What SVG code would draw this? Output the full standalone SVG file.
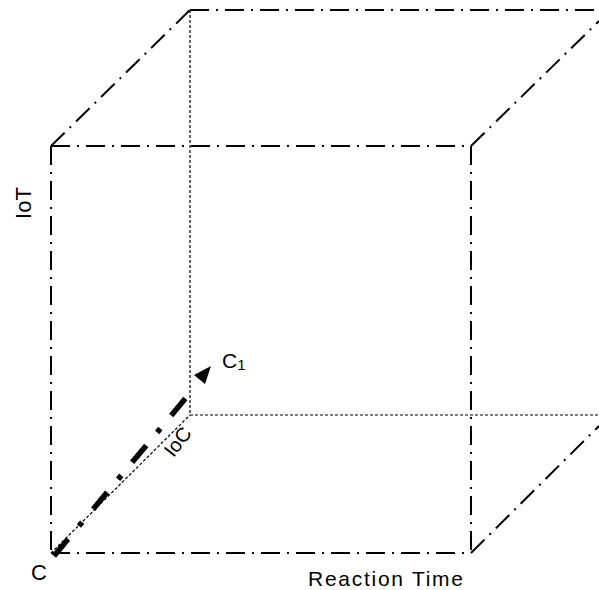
<svg xmlns="http://www.w3.org/2000/svg" width="599" height="590" viewBox="0 0 599 590">
<style>
.dd{fill:none;stroke:#000;stroke-width:2;stroke-dasharray:19 7 2 7}
.dot{fill:none;stroke:#000;stroke-width:1.2;stroke-dasharray:3 2}
.lbl{font-family:"Liberation Sans",Arial,sans-serif;fill:#000}
</style>
<rect width="599" height="590" fill="#fff"/>
<g id="hidden-edges">
<line class="dot" x1="190" y1="10" x2="190" y2="415"/>
<line class="dot" x1="190" y1="415" x2="599" y2="415"/>
<line class="dot" x1="51" y1="553" x2="190" y2="415"/>
</g>
<g id="cube-edges">
<line class="dd" x1="51" y1="146" x2="471" y2="146"/>
<line class="dd" x1="51" y1="146" x2="51" y2="553"/>
<line class="dd" x1="51" y1="553" x2="471" y2="553"/>
<line class="dd" x1="471" y1="146" x2="471" y2="553"/>
<line class="dd" x1="51" y1="146" x2="190" y2="10"/>
<line class="dd" x1="190" y1="10" x2="599" y2="10"/>
<line class="dd" x1="471" y1="146" x2="599" y2="21"/>
<line class="dd" x1="471" y1="553" x2="599" y2="426"/>
</g>
<g id="connectors">
<line x1="54" y1="556" x2="190" y2="393" stroke="#000" stroke-width="5.5" stroke-dasharray="22 17 5 17" fill="none"/>
<polygon points="211,366 194,375 205,384" fill="#000"/>
</g>
<g id="label-iot"><text class="lbl" font-size="22" text-anchor="middle" transform="translate(31,203) rotate(-90)">IoT</text></g>
<g id="label-c"><text class="lbl" font-size="22" x="31" y="580">C</text></g>
<g id="label-c1"><text class="lbl" font-size="21" x="222" y="368">C<tspan font-size="15" dy="2">1</tspan></text></g>
<g id="label-ioc"><text class="lbl" font-size="20" text-anchor="middle" transform="translate(183,446) rotate(-52)">IoC</text></g>
<g id="label-rt"><text class="lbl" font-size="21" x="308" y="586" textLength="155" lengthAdjust="spacing">Reaction  Time</text></g>
</svg>
